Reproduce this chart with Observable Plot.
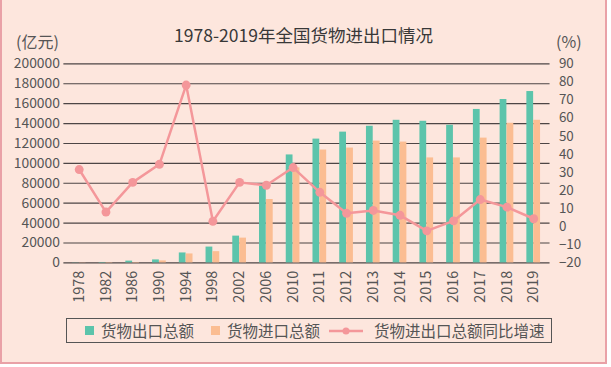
<!DOCTYPE html>
<html>
<head>
<meta charset="utf-8">
<script src="https://cdn.jsdelivr.net/npm/d3@7"></script>
<script src="https://cdn.jsdelivr.net/npm/@observablehq/plot@0.6"></script>
<style>
  html, body { margin: 0; padding: 0; background: #ffffff; }
  #frame {
    position: relative; width: 603px; height: 362px;
    background: #fde6dd;
    border-left: 2px solid #e9a1a7; border-right: 2px solid #e9a1a7; border-bottom: 2px solid #e9a1a7;
    font-family: "Noto Sans CJK SC", sans-serif; color: #555;
    overflow: hidden;
  }
  #chart { position: absolute; left: -2px; top: 0; }
  .lbl { position: absolute; white-space: nowrap; line-height: 1; }
  #title { left: 0; width: 603px; text-align: center; top: 26px; font-size: 17.5px; color: #383838; }
  #unitL { left: 14px; top: 33px; font-size: 16px; }
  #unitR { left: 554px; top: 33px; font-size: 16px; }
  #legend {
    position: absolute; left: 64px; top: 318px; width: 484px; height: 23px;
    border: 1.5px solid #555; box-sizing: content-box;
    display: flex; align-items: center; font-size: 15.5px; color: #555; line-height: 1;
  }
  .sw { display: inline-block; width: 9px; height: 9px; margin-right: 7px; }
  .item { display: flex; align-items: center; }
</style>
</head>
<body>
<div id="frame">
  <div id="chart"></div>
  <div class="lbl" id="title">1978-2019年全国货物进出口情况</div>
  <div class="lbl" id="unitL">(亿元)</div>
  <div class="lbl" id="unitR">(%)</div>
  <div id="legend">
    <div class="item" style="margin-left:18px"><span class="sw" style="background:#5cc4ab"></span>货物出口总额</div>
    <div class="item" style="margin-left:17px"><span class="sw" style="background:#fbbd92"></span>货物进口总额</div>
    <div class="item" style="margin-left:9px">
      <svg width="34" height="10" style="margin-right:11px"><line x1="0" y1="5" x2="34" y2="5" stroke="#f4979a" stroke-width="2.5"/><circle cx="17" cy="5" r="3.5" fill="#f4979a"/></svg>货物进出口总额同比增速</div>
  </div>
</div>
<script>
const years = ["1978","1982","1986","1990","1994","1998","2002","2006","2010","2011","2012","2013","2014","2015","2016","2017","2018","2019"];
const exportTotal = [168, 414, 1800, 3000, 10000, 15900, 26900, 77000, 108500, 124400, 131400, 137300, 143300, 142300, 138300, 154200, 164200, 172200];
const importTotal = [187, 357, 400, 2000, 9000, 11300, 24900, 63700, 95500, 113400, 115400, 122400, 121400, 105500, 105500, 125400, 140300, 143300];
const growthRate = [31.6, 8.1, 24.5, 34.5, 78.3, 3.0, 24.5, 22.9, 32.7, 19.0, 7.4, 9.0, 6.3, -2.3, 3.2, 15.0, 10.8, 4.4];
const leftTicks = [0, 20000, 40000, 60000, 80000, 100000, 120000, 140000, 160000, 180000, 200000];
const rightTicks = [-20, -10, 0, 10, 20, 30, 40, 50, 60, 70, 80, 90];

// right axis (-20..90 %) shares the plot height with left axis (0..200000)
const toLeft = p => (p + 20) / 110 * 200000;
const fromLeft = v => Math.round(v / 200000 * 110 - 20);

const rows = years.map((y, i) => ({year: y, exp: exportTotal[i], imp: importTotal[i], g: growthRate[i]}));

const x0 = 64, x1 = 553;
const bw = (x1 - x0) / years.length;
const barW = 7;

const chart = Plot.plot({
  width: 611, height: 310,
  marginTop: 64, marginBottom: 45, marginLeft: 64, marginRight: 56,
  style: {background: "transparent", fontFamily: "'Noto Sans CJK SC', sans-serif", fontSize: "14px", color: "#555"},
  x: {domain: years, range: [x0, x1], padding: 0, label: null},
  y: {domain: [0, 200000], label: null},
  marks: [
    Plot.ruleY(leftTicks, {stroke: "#4d4545", strokeWidth: 1.2}),
    Plot.barY(rows, {x: "year", y: "exp", fill: "#5cc4ab", insetLeft: bw / 2 - barW, insetRight: bw / 2}),
    Plot.barY(rows, {x: "year", y: "imp", fill: "#fbbd92", insetLeft: bw / 2, insetRight: bw / 2 - barW}),
    Plot.line(rows, {x: "year", y: d => toLeft(d.g), stroke: "#f4979a", strokeWidth: 2.5}),
    Plot.dot(rows, {x: "year", y: d => toLeft(d.g), r: 4.5, fill: "#f4979a"}),
    Plot.axisY({ticks: leftTicks, tickSize: 0, tickPadding: 4, tickFormat: d => String(d), fill: "#555", fontSize: "14px"}),
    Plot.axisY({anchor: "right", ticks: rightTicks.map(toLeft), tickSize: 0, tickPadding: 9,
      tickFormat: v => { const p = fromLeft(v); return p < 0 ? "\u2212" + Math.abs(p) : String(p); }, fill: "#555", fontSize: "13.5px"}),
    Plot.axisX({tickSize: 0, tickRotate: -90, tickPadding: 8, fill: "#555", fontSize: "14.5px"})
  ]
});
document.getElementById("chart").appendChild(chart);
</script>
</body>
</html>
